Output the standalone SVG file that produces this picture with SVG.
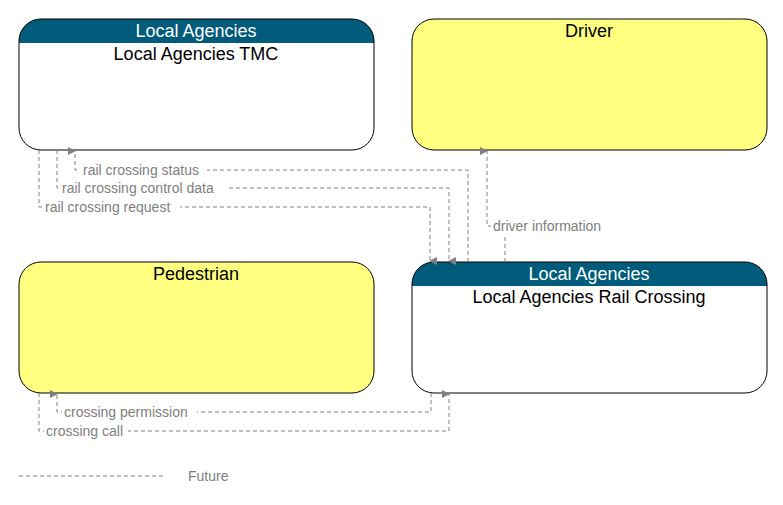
<svg xmlns="http://www.w3.org/2000/svg" width="783" height="505" viewBox="0 0 783 505">
<style>
.box{stroke:#000;stroke-width:1}
.t{font-family:Arial,"Liberation Sans",sans-serif;font-size:18px;text-anchor:middle}
.h{fill:#fff}
.c{fill:none;stroke:#808080;stroke-width:1;stroke-dasharray:4,3}
.l{font-family:Arial,"Liberation Sans",sans-serif;font-size:14px;fill:#808080}
</style>
<defs>
<marker id="a" markerWidth="8" markerHeight="8" refX="4" refY="7" orient="auto-start-reverse" markerUnits="userSpaceOnUse" viewBox="0 0 8 8"><path d="M0,0 L8,0 L4,8 z" fill="#808080" transform="rotate(0)"/></marker>
<clipPath id="c1"><rect x="19" y="19" width="355" height="131" rx="22"/></clipPath>
<clipPath id="c2"><rect x="412" y="262" width="355" height="131" rx="22"/></clipPath>
</defs>
<g id="tmc">
<rect x="19" y="19" width="355" height="131" rx="22" fill="#fff"/>
<rect x="19" y="19" width="355" height="24" fill="#005c7a" clip-path="url(#c1)"/>
<rect x="19" y="19" width="355" height="131" rx="22" fill="none" class="box"/>
<text x="196" y="37" class="t h">Local Agencies</text>
<text x="196" y="60" class="t">Local Agencies TMC</text>
</g>
<g id="driver">
<rect x="412" y="19" width="355" height="131" rx="22" fill="#ffff80" class="box"/>
<text x="589" y="37" class="t">Driver</text>
</g>
<g id="pedestrian">
<rect x="19" y="262" width="355" height="131" rx="22" fill="#ffff80" class="box"/>
<text x="196" y="280" class="t">Pedestrian</text>
</g>
<g id="railcrossing">
<rect x="412" y="262" width="355" height="131" rx="22" fill="#fff"/>
<rect x="412" y="262" width="355" height="24" fill="#005c7a" clip-path="url(#c2)"/>
<rect x="412" y="262" width="355" height="131" rx="22" fill="none" class="box"/>
<text x="589" y="280" class="t h">Local Agencies</text>
<text x="589" y="303" class="t">Local Agencies Rail Crossing</text>
</g>
<g id="connectors">
<path class="c" d="M468,262 V170 H75 V151" marker-end="url(#a)"/>
<path class="c" d="M57,150 V188 H449 V261" marker-end="url(#a)"/>
<path class="c" d="M39,150 V207 H430 V261" marker-end="url(#a)"/>
<path class="c" d="M505,262 V226 H487 V151" marker-end="url(#a)"/>
<path class="c" d="M431,393 V412 H57 V394" marker-end="url(#a)"/>
<path class="c" d="M39,393 V431 H449 V394" marker-end="url(#a)"/>
<line class="c" x1="19" y1="476" x2="166" y2="476"/>
</g>
<g>
<rect x="80" y="162" width="127" height="16" fill="#fff"/>
<text x="83" y="175" class="l">rail crossing status</text>
<rect x="60" y="180" width="167" height="16" fill="#fff"/>
<text x="62" y="193" class="l">rail crossing control data</text>
<rect x="43" y="199" width="137" height="16" fill="#fff"/>
<text x="45" y="212" class="l">rail crossing request</text>
<rect x="491" y="218" width="118" height="16" fill="#fff"/>
<text x="493" y="231" class="l">driver information</text>
<rect x="62" y="404" width="135" height="16" fill="#fff"/>
<text x="64" y="417" class="l">crossing permission</text>
<rect x="44" y="423" width="84" height="16" fill="#fff"/>
<text x="46" y="436" class="l">crossing call</text>
<text x="188" y="481" class="l">Future</text>
</g>
</svg>
